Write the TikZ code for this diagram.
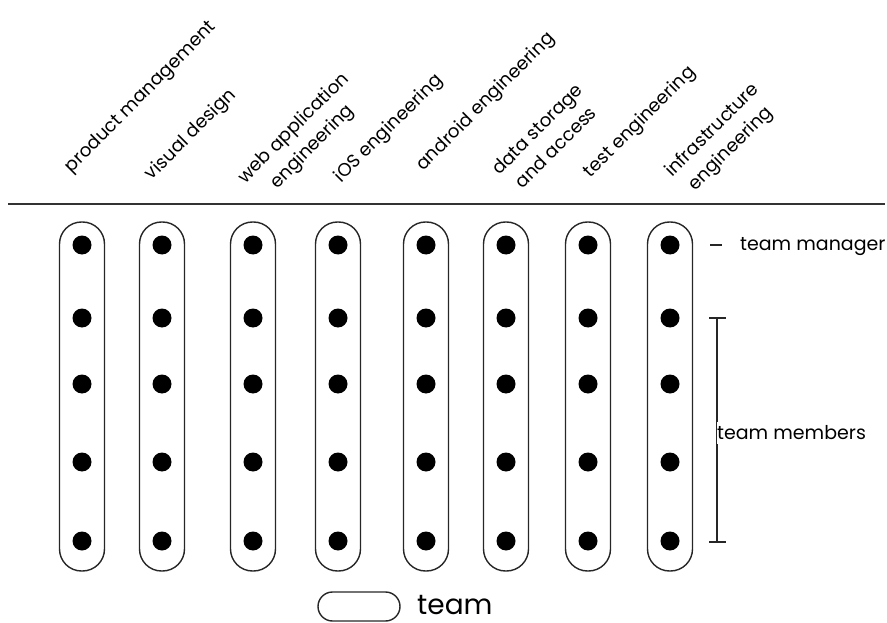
\documentclass[tikz,border=0pt]{standalone}
\usepackage{fontspec}
\setmainfont{Poppins}
\begin{document}
\begin{tikzpicture}[x=1pt,y=-1pt,
  every node/.style={inner sep=0pt},
  rule/.style={line width=1.4pt, draw=black!85},
  pill/.style={draw=black!85, line width=1.4pt, rounded corners=22pt,
    minimum width=45pt, minimum height=349pt},
  member/.style={circle, fill=black, minimum size=19pt},
  role/.style={rotate=45, align=center, font=\fontsize{18.3}{26}\selectfont},
  lbl/.style={font=\fontsize{19}{22}\selectfont, anchor=west},
]
\useasboundingbox (0,0) rectangle (887,623);

% heading rule under the discipline names
\coordinate (ruleL) at (8,204);
\coordinate (ruleR) at (885,204);
\draw[line width=1.6pt, black!80] (ruleL) -- (ruleR);

% discipline names, set on a diagonal
\node[role] (nPM)    at (141,97.5) {product management};
\node[role] (nVD)    at (191,135)  {visual design};
\node[role] (nWeb)   at (303.5,138){web application\\engineering};
\node[role] (nIOS)   at (389,129)  {iOS engineering};
\node[role] (nAnd)   at (486,102)  {android engineering};
\node[role] (nData)  at (546,138)  {data storage\\and access};
\node[role] (nTest)  at (640,122.5){test engineering};
\node[role] (nInfra) at (722,140)  {infrastructure\\engineering};

% teams: one pill per discipline, five people each
\foreach \i/\x in {1/82,2/162,3/253,4/338,5/426,6/506,7/588,8/670}{
  \node[pill] (team\i) at (\x,396.5) {};
  \foreach \j/\y in {1/245,2/318,3/384,4/462,5/541}{
    \node[member] (p\i-\j) at (\x,\y) {};
  }
}

% team manager marker
\coordinate (mgrA) at (710,245);
\coordinate (mgrB) at (722,245);
\draw[rule] (mgrA) -- (mgrB);
\node[lbl] (mgr) at (740,247) {team manager};

% team members bracket
\coordinate (brT) at (717,318);
\coordinate (brB) at (717,542);
\coordinate (brTL) at (709,318);
\coordinate (brTR) at (726,318);
\coordinate (brBL) at (709,542);
\coordinate (brBR) at (726,542);
\draw[rule] (brT) -- (brB);
\draw[rule] (brTL) -- (brTR);
\draw[rule] (brBL) -- (brBR);
\node[lbl, fill=white, inner ysep=4pt] (members) at (717,433) {team members};

% legend
\node[draw=black!85, line width=1.4pt, rounded corners=14.5pt,
  minimum width=82pt, minimum height=29pt] (legend) at (359,606.5) {};
\node[font=\fontsize{28}{30}\selectfont, anchor=west] (legendtxt) at (417,605) {team};
\end{tikzpicture}
\end{document}
